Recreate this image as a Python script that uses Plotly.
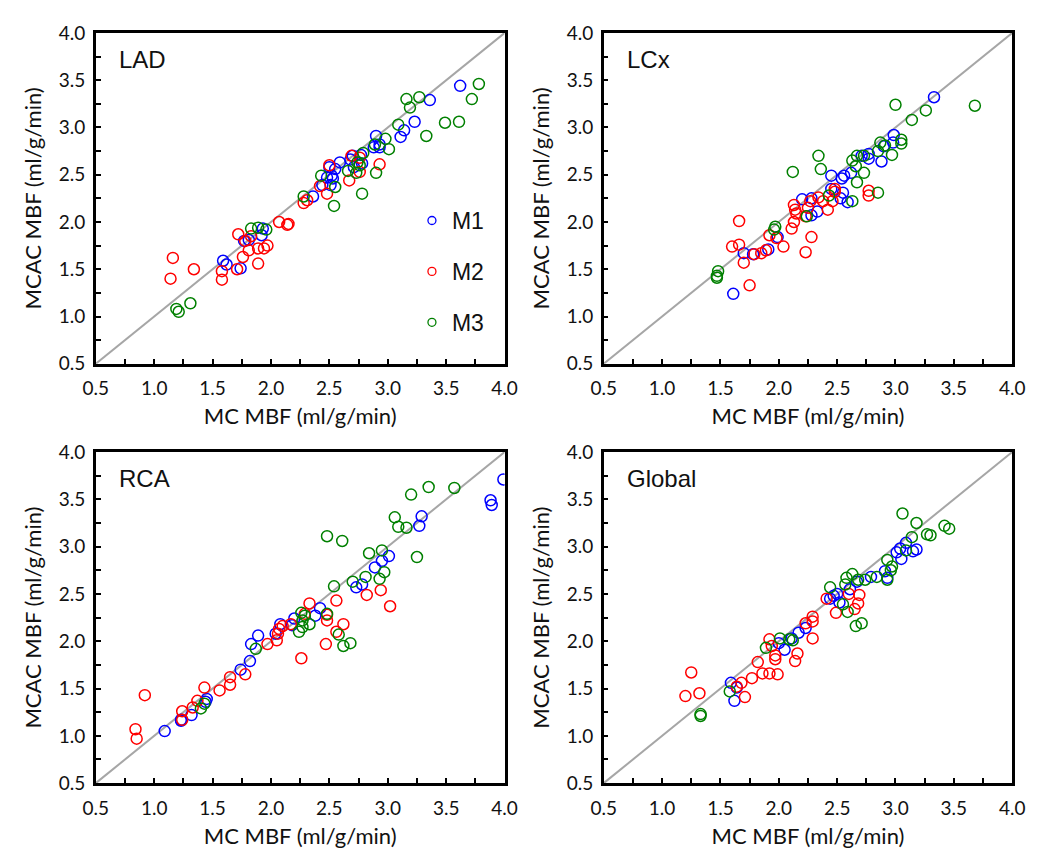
import plotly.graph_objects as go

# ---------------- data (MC MBF, MCAC MBF) ----------------
panel_names = ["LAD", "LCx", "RCA", "Global"]
method_names = ["M1", "M2", "M3"]
method_colors = ["#0000FF", "#FF0000", "#008000"]
tick_values = [0.5, 1.0, 1.5, 2.0, 2.5, 3.0, 3.5, 4.0]

lad_m1_x = [3.62,3.36,3.23,3.14,3.11,2.90,2.93,2.88,2.93,2.77,2.70,2.68,2.78,2.71,2.59,2.50,2.55,2.52,2.48,2.53,2.44,2.51,2.36,1.93,1.92,1.81,1.77,1.74,1.59,1.62]
lad_m1_y = [3.44,3.29,3.06,2.97,2.90,2.91,2.82,2.79,2.79,2.71,2.70,2.66,2.62,2.58,2.63,2.58,2.56,2.49,2.47,2.46,2.39,2.39,2.27,1.93,1.86,1.81,1.80,1.51,1.59,1.55]
lad_m2_x = [2.93,2.76,2.76,2.67,2.69,2.50,2.48,2.42,2.28,2.31,2.07,2.14,2.15,1.97,1.94,1.89,1.89,1.81,1.76,1.72,1.71,1.83,1.78,1.58,1.58,1.34,1.16,1.14]
lad_m2_y = [2.61,2.53,2.68,2.44,2.70,2.60,2.30,2.38,2.20,2.23,2.00,1.97,1.98,1.75,1.72,1.72,1.56,1.70,1.63,1.87,1.50,1.85,1.80,1.48,1.39,1.50,1.62,1.40]
lad_m3_x = [3.78,3.72,3.49,3.61,3.33,3.16,3.19,3.27,3.09,3.01,2.98,2.90,2.78,2.79,2.76,2.73,2.66,2.74,2.54,2.55,2.43,2.28,1.96,1.89,1.83,1.31,1.19,1.21,2.89]
lad_m3_y = [3.46,3.30,3.05,3.06,2.91,3.30,3.21,3.32,3.03,2.77,2.88,2.52,2.30,2.73,2.60,2.52,2.54,2.63,2.17,2.37,2.49,2.27,1.92,1.94,1.93,1.14,1.08,1.05,2.82]

lcx_m1_x = [3.33,2.985,2.98,2.90,2.88,2.77,2.77,2.71,2.62,2.56,2.54,2.45,2.45,2.55,2.53,2.59,2.28,2.20,2.33,2.28,1.99,1.91,1.78,1.70,1.61]
lcx_m1_y = [3.32,2.92,2.84,2.80,2.64,2.72,2.67,2.70,2.52,2.49,2.46,2.49,2.35,2.31,2.25,2.21,2.25,2.24,2.11,2.07,1.84,1.71,1.66,1.67,1.24]
lcx_m2_x = [2.48,2.77,2.77,2.34,2.38,2.42,2.46,2.27,2.25,2.13,2.14,2.15,2.13,2.11,2.23,2.28,2.23,2.04,1.98,1.92,1.66,1.66,1.60,1.70,1.75,1.79,1.85,1.89,2.48]
lcx_m2_y = [2.35,2.33,2.28,2.26,2.22,2.13,2.22,2.22,2.15,2.18,2.13,2.09,2.00,1.93,2.06,1.84,1.68,1.74,1.83,1.86,2.01,1.76,1.74,1.57,1.33,1.66,1.67,1.70,2.32]
lcx_m3_x = [3.68,3.00,3.26,3.14,3.05,3.05,2.97,2.87,2.91,2.85,2.34,2.36,2.12,2.67,2.73,2.63,2.85,2.66,2.63,2.67,2.73,2.43,2.24,1.97,1.96,1.48,1.47,1.47]
lcx_m3_y = [3.23,3.24,3.18,3.08,2.87,2.83,2.71,2.84,2.81,2.75,2.70,2.56,2.53,2.42,2.52,2.22,2.31,2.59,2.65,2.70,2.70,2.28,2.06,1.95,1.92,1.48,1.43,1.41]

rca_m1_x = [3.99,3.88,3.89,3.29,3.27,3.01,2.95,2.89,2.78,2.73,2.42,2.38,2.20,2.18,2.08,2.04,1.89,1.83,1.82,1.74,1.45,1.44,1.32,1.23,1.23,1.09]
rca_m1_y = [3.71,3.49,3.44,3.32,3.22,2.90,2.85,2.78,2.60,2.57,2.35,2.27,2.24,2.17,2.18,2.08,2.06,1.97,1.79,1.70,1.39,1.36,1.22,1.17,1.16,1.05]
rca_m2_x = [3.02,2.94,2.82,2.56,2.62,2.56,2.47,2.48,2.48,2.33,2.26,2.29,2.06,2.07,2.10,1.97,2.05,2.17,1.78,1.65,1.65,1.56,1.43,1.37,1.33,1.24,1.24,0.92,0.84,0.85]
rca_m2_y = [2.37,2.54,2.49,2.43,2.18,2.10,1.97,2.22,2.28,2.40,1.82,2.29,2.08,2.13,2.16,1.97,2.01,2.18,1.65,1.62,1.54,1.48,1.51,1.37,1.30,1.26,1.17,1.43,1.07,0.97]
rca_m3_x = [3.57,3.35,3.20,3.06,3.09,3.16,2.48,2.61,2.84,2.95,3.25,2.97,2.93,2.81,2.70,2.54,2.48,2.58,2.62,2.68,2.26,2.29,2.27,2.27,2.24,2.33,1.87,1.40,1.43]
rca_m3_y = [3.62,3.63,3.55,3.31,3.21,3.20,3.11,3.06,2.93,2.96,2.89,2.73,2.66,2.68,2.63,2.58,2.29,2.07,1.95,1.98,2.30,2.27,2.22,2.15,2.10,2.18,1.92,1.29,1.34]

glb_m1_x = [3.18,3.15,3.05,3.09,3.04,3.01,2.91,2.93,2.79,2.67,2.61,2.50,2.47,2.44,2.52,2.23,2.17,2.11,2.05,2.00,1.59,1.64,1.62]
glb_m1_y = [2.97,2.95,2.87,3.04,2.98,2.94,2.74,2.67,2.68,2.63,2.55,2.50,2.48,2.45,2.41,2.14,2.09,2.03,1.91,1.98,1.56,1.51,1.37]
glb_m2_x = [2.69,2.60,2.68,2.65,2.49,2.41,2.29,2.29,2.23,2.29,1.92,1.94,1.97,1.97,2.16,2.14,1.82,1.86,1.92,1.99,1.77,1.68,1.64,1.71,1.25,1.32,1.20]
glb_m2_y = [2.49,2.50,2.40,2.34,2.30,2.45,2.26,2.21,2.19,2.03,2.02,1.95,1.85,1.81,1.87,1.79,1.78,1.66,1.66,1.65,1.61,1.56,1.52,1.41,1.67,1.45,1.42]
glb_m3_x = [3.06,3.18,3.42,3.46,3.27,3.30,3.14,3.09,2.93,2.97,2.96,2.93,2.84,2.74,2.63,2.58,2.68,2.57,2.44,2.55,2.59,2.66,2.71,2.01,2.09,1.89,1.58,1.33,1.33,2.12]
glb_m3_y = [3.35,3.25,3.22,3.19,3.13,3.12,3.10,2.96,2.86,2.79,2.75,2.65,2.68,2.65,2.71,2.67,2.65,2.60,2.57,2.39,2.31,2.16,2.19,2.03,2.02,1.93,1.47,1.23,1.21,2.01]

panel_data = [
    [(lad_m1_x, lad_m1_y), (lad_m2_x, lad_m2_y), (lad_m3_x, lad_m3_y)],
    [(lcx_m1_x, lcx_m1_y), (lcx_m2_x, lcx_m2_y), (lcx_m3_x, lcx_m3_y)],
    [(rca_m1_x, rca_m1_y), (rca_m2_x, rca_m2_y), (rca_m3_x, rca_m3_y)],
    [(glb_m1_x, glb_m1_y), (glb_m2_x, glb_m2_y), (glb_m3_x, glb_m3_y)],
]

# ---------------- layout geometry ----------------
W, H = 1037, 853
x_doms = [[76.7 / W, 496.0 / W], [597.7 / W, 1016.7 / W]]
y_doms = [[1 - 353.3 / H, 1 - 13.3 / H], [1 - 784.3 / H, 1 - 444.0 / H]]

TICK_FONT = dict(family="Lato, 'Open Sans', sans-serif", size=19, color="#111111")
TITLE_FONT = dict(family="Lato, 'Open Sans', sans-serif", size=22, color="#111111")
LABEL_FONT = dict(family="'Liberation Sans', Arial, sans-serif", size=24, color="#111111")

fig = go.Figure()

for p, name in enumerate(panel_names):
    row, col = divmod(p, 2)
    sfx = "" if p == 0 else str(p + 1)
    for m in range(3):
        xs, ys = panel_data[p][m]
        fig.add_trace(go.Scatter(
            x=xs, y=ys, mode="markers", name=method_names[m],
            xaxis="x" + sfx, yaxis="y" + sfx,
            marker=dict(symbol="circle-open", size=11, color=method_colors[m],
                        line=dict(width=1.5, color=method_colors[m])),
            showlegend=False, legendgroup=method_names[m],
        ))
    axis_common = dict(
        range=[0.5, 4.0], tickvals=tick_values, tickformat=".1f",
        ticks="inside", ticklen=5, tickwidth=2, tickcolor="black",
        minor=dict(dtick=0.25, tick0=0.5, ticks="inside", ticklen=5, tickwidth=2, tickcolor="black"),
        showline=True, linecolor="black", linewidth=2.5, mirror=True,
        showgrid=False, zeroline=False, tickfont=TICK_FONT, fixedrange=True,
    )
    fig.layout["xaxis" + sfx] = dict(
        axis_common, domain=x_doms[col], anchor="y" + sfx,
        title=dict(text="MC MBF (ml/g/min)", font=TITLE_FONT, standoff=11),
        ticklabelstandoff=6,
    )
    fig.layout["yaxis" + sfx] = dict(
        axis_common, domain=y_doms[row], anchor="x" + sfx,
        title=dict(text="MCAC MBF (ml/g/min)", font=TITLE_FONT, standoff=11),
        ticklabelstandoff=4,
    )
    fig.add_shape(type="line", xref="x" + sfx, yref="y" + sfx,
                  x0=0.5, y0=0.5, x1=4.0, y1=4.0,
                  line=dict(color="#A6A6A6", width=2), layer="below")
    fig.add_annotation(text=name, xref=("x" + sfx) + " domain", yref=("y" + sfx) + " domain",
                       x=0.053, y=0.92, xanchor="left", yanchor="middle",
                       showarrow=False, font=LABEL_FONT)

# legend entries (small open circles, as in the reference key)
for m in range(3):
    fig.add_trace(go.Scatter(
        x=[None], y=[None], mode="markers", name=method_names[m],
        marker=dict(symbol="circle-open", size=8, color=method_colors[m],
                    line=dict(width=1.3, color=method_colors[m])),
        showlegend=True, legendgroup=method_names[m],
    ))

fig.update_layout(
    width=W, height=H,
    margin=dict(l=0, r=0, t=0, b=0),
    paper_bgcolor="white", plot_bgcolor="white",
    showlegend=True,
    legend=dict(x=401 / W, y=1 - 184 / H, xanchor="left", yanchor="top",
                bgcolor="rgba(0,0,0,0)", font=dict(family="'Liberation Sans', Arial, sans-serif", size=23, color="#111111"),
                tracegroupgap=18, itemwidth=30),
)

fig.write_html("out.html")
